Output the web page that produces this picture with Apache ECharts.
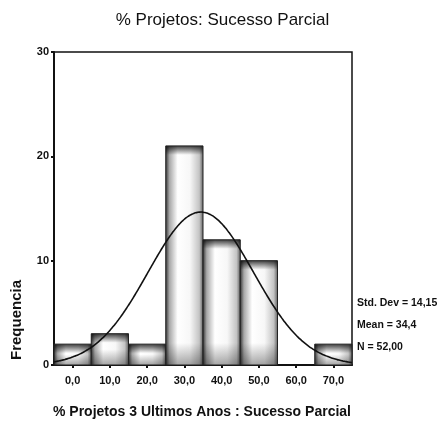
<!DOCTYPE html>
<html>
<head>
<meta charset="utf-8">
<script src="https://cdn.jsdelivr.net/npm/echarts@6/dist/echarts.min.js"></script>
<style>
  html, body { margin: 0; padding: 0; background: #fff; }
  #chart { width: 445px; height: 425px; }
</style>
</head>
<body>
<div id="chart"></div>
<script>
// Histogram bins (centres) and their frequencies
const binLabels = ['0,0', '10,0', '20,0', '30,0', '40,0', '50,0', '60,0', '70,0'];
const binCenters = [0, 10, 20, 30, 40, 50, 60, 70];
const frequencies = [2, 3, 2, 21, 12, 10, 0, 2];

// Summary statistics shown beside the plot
const stdDev = 14.15;
const mean = 34.4;
const count = 52;
const statLines = ['Std. Dev = 14,15', 'Mean = 34,4', 'N = 52,00'];

const binWidth = 10;
const yTicks = [0, 10, 20, 30];

// Fitted normal curve scaled to the histogram (count * bin width * density)
const curve = [];
for (let x = -5; x <= 75; x += 0.5) {
  const z = (x - mean) / stdDev;
  const y = count * binWidth * Math.exp(-0.5 * z * z) / (stdDev * Math.sqrt(2 * Math.PI));
  curve.push([x, y]);
}

const labelFont = '"Liberation Sans", Arial, sans-serif';

function renderBar(params, api) {
  const idx = api.value(0);
  const val = api.value(1);
  if (!val) return null;
  const top = api.coord([idx, val]);
  const base = api.coord([idx, 0]);
  const w = api.size([1, 0])[0];
  const x = top[0] - w / 2;
  const y = top[1];
  const h = base[1] - top[1];
  // edge darkening measured in pixels, converted to fractions of the bar height
  const tf = Math.min(9 / h, 0.45);
  const bf = Math.min(22 / h, 0.5);
  return {
    type: 'group',
    children: [
      {
        type: 'rect',
        shape: { x: x, y: y, width: w, height: h },
        style: {
          fill: new echarts.graphic.LinearGradient(0, 0, 1, 0, [
            { offset: 0, color: '#3a3a3a' },
            { offset: 0.1, color: '#a8a8a8' },
            { offset: 0.32, color: '#ffffff' },
            { offset: 0.65, color: '#f7f7f7' },
            { offset: 0.9, color: '#c4c4c4' },
            { offset: 1, color: '#666666' }
          ])
        }
      },
      {
        type: 'rect',
        shape: { x: x, y: y, width: w, height: h },
        style: {
          fill: new echarts.graphic.LinearGradient(0, 0, 0, 1, [
            { offset: 0, color: 'rgba(0,0,0,0.75)' },
            { offset: tf, color: 'rgba(0,0,0,0)' },
            { offset: 1 - bf, color: 'rgba(0,0,0,0)' },
            { offset: 1, color: 'rgba(0,0,0,0.35)' }
          ])
        }
      },
      {
        type: 'rect',
        shape: { x: x, y: y, width: w, height: h },
        style: { fill: 'none', stroke: '#222', lineWidth: 1 }
      }
    ]
  };
}

const chart = echarts.init(document.getElementById('chart'), null, { renderer: 'canvas' });

chart.setOption({
  backgroundColor: '#fff',
  animation: false,
  title: {
    text: '% Projetos: Sucesso Parcial',
    left: 'center',
    top: 7,
    textStyle: { fontFamily: '"Liberation Sans", Arial, sans-serif', fontSize: 17, fontWeight: 'normal', color: '#111' }
  },
  grid: { left: 54, right: 93, top: 52, bottom: 60, show: true, borderColor: '#111', borderWidth: 1.5 },
  xAxis: [
    {
      type: 'category',
      data: binLabels,
      boundaryGap: true,
      axisLine: { lineStyle: { color: '#111', width: 2 } },
      axisTick: { show: true, alignWithLabel: true, length: 3, lineStyle: { color: '#111', width: 2 } },
      axisLabel: { fontFamily: labelFont, fontSize: 11, fontWeight: 'bold', color: '#111', margin: 10 }
    },
    {
      type: 'value',
      min: -5,
      max: 75,
      show: false
    }
  ],
  yAxis: {
    type: 'value',
    min: yTicks[0],
    max: yTicks[yTicks.length - 1],
    interval: 10,
    splitLine: { show: false },
    axisLine: { show: true, onZero: false, lineStyle: { color: '#111', width: 2 } },
    axisTick: { show: true, length: 3, lineStyle: { color: '#111', width: 2 } },
    axisLabel: { fontFamily: labelFont, fontSize: 11, fontWeight: 'bold', color: '#111', margin: 5 }
  },
  series: [
    {
      type: 'custom',
      xAxisIndex: 0,
      renderItem: renderBar,
      data: frequencies.map((f, i) => [i, f]),
      encode: { x: 0, y: 1 },
      z: 2
    },
    {
      type: 'line',
      xAxisIndex: 1,
      data: curve,
      showSymbol: false,
      smooth: true,
      lineStyle: { color: '#111', width: 1.6 },
      z: 5
    }
  ],
  graphic: [
    {
      type: 'text',
      left: 9,
      top: 280,
      rotation: Math.PI / 2,
      style: { text: 'Frequencia', font: 'bold 15px ' + labelFont, fill: '#111' }
    },
    {
      type: 'text',
      x: 53,
      y: 405,
      style: { text: '% Projetos 3 Ultimos Anos : Sucesso Parcial', font: 'bold 14px ' + labelFont, fill: '#111' }
    },
    {
      type: 'group',
      left: 357,
      top: 298,
      children: statLines.map((t, i) => ({
        type: 'text',
        x: 0,
        y: i * 22,
        style: { text: t, font: 'bold 10.5px ' + labelFont, fill: '#111' }
      }))
    }
  ]
});
</script>
</body>
</html>
